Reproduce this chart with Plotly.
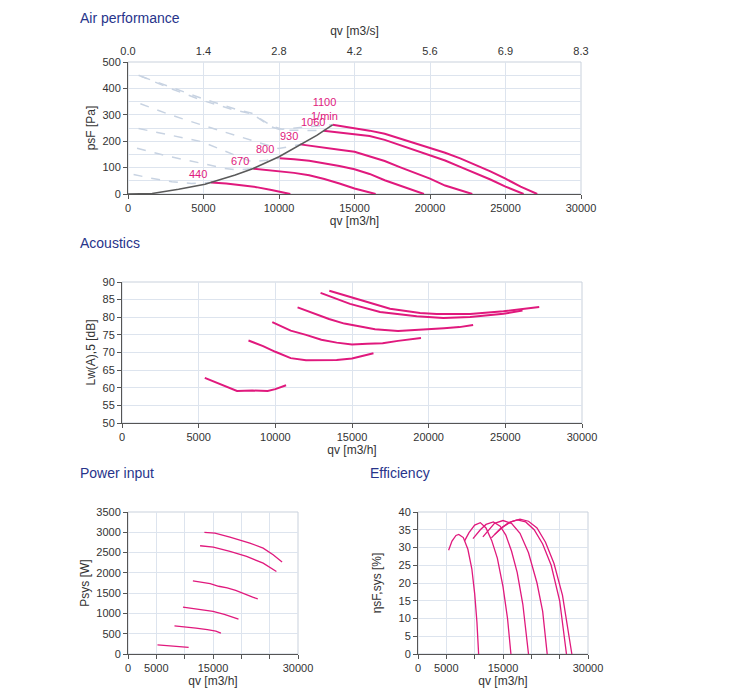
import plotly.graph_objects as go

# speeds [1/min]
speeds = ["440", "670", "800", "930", "1060", "1100"]

# air performance: qv [m3/h] / psF [Pa]
air_qv = [
    [5500, 6500, 7500, 8500, 9500, 10000, 10750],
    [8300, 9000, 10000, 11000, 12000, 13000, 14000, 15000, 16400],
    [10050, 11000, 12000, 13000, 14000, 15000, 16000, 17000, 18000, 19000, 19600],
    [11400, 12000, 13000, 14000, 15000, 16000, 17000, 18000, 19000, 20000, 21000, 22000, 22800],
    [12950, 14000, 15000, 16000, 17000, 18000, 19000, 20000, 21000, 22000, 23000, 24000, 25000, 26200],
    [13550, 14000, 15000, 16000, 17000, 18000, 19000, 20000, 21000, 22000, 23000, 24000, 25000, 26000, 27100],
]
air_ps = [
    [44, 40, 33, 26, 15, 9, 0],
    [96, 92, 87, 80, 71, 57, 40, 21, 0],
    [135, 132, 126, 117, 106, 94, 76, 52, 32, 14, 0],
    [188, 184, 176, 168, 160, 142, 125, 102, 80, 58, 32, 14, 0],
    [240, 233, 227, 220, 205, 185, 168, 148, 127, 103, 80, 55, 28, 0],
    [262, 258, 250, 240, 228, 210, 192, 176, 156, 135, 112, 86, 58, 28, 0],
]

# unstable (dashed) part
dash_qv = [
    [370, 1500, 2900, 4200, 5500],
    [600, 2500, 4900, 6400, 7300, 8300],
    [700, 2800, 4900, 7100, 8200, 9200, 10050],
    [820, 2800, 4900, 6500, 8200, 9970, 10800, 11400],
    [700, 2800, 4900, 7100, 8200, 9500, 10200, 11500, 12950],
    [900, 2800, 4900, 7100, 8200, 9500, 10200, 12000, 13550],
]
dash_ps = [
    [74, 60, 46, 40, 44],
    [173, 145, 116, 97, 91, 96],
    [248, 222, 198, 147, 122, 128, 135],
    [342, 300, 261, 233, 203, 172, 180, 188],
    [450, 400, 355, 317, 304, 254, 242, 240, 240],
    [445, 405, 362, 322, 306, 258, 245, 255, 262],
]

# system curve
sys_qv = [0, 1600, 3350, 5100, 7100, 8300, 10000, 11300, 12500, 13550]
sys_ps = [0, 2, 18, 37, 72, 97, 141, 183, 222, 262]

# speed labels
lbl_qv = [4630, 7430, 9090, 10680, 12250, 13000]
lbl_ps = [75, 125, 170, 219, 274, 322]
lbl_txt = ["440", "670", "800", "930", "1060", "1100<br>1/min"]

# acoustics: Lw(A),5 [dB]
ac_qv = [
    [5400, 6200, 7000, 7500, 8500, 9500, 10000, 10700],
    [8250, 9200, 10000, 11000, 12000, 13000, 14000, 15000, 16400],
    [9800, 11000, 12000, 13000, 14000, 15000, 16000, 17000, 18000, 19500],
    [11450, 12500, 13500, 14500, 15500, 16500, 18000, 19500, 21000, 22000, 22900],
    [12950, 14870, 16830, 19220, 20960, 22700, 24880, 26120],
    [13520, 15520, 17480, 19440, 20530, 22700, 24880, 27210],
]
ac_lw = [
    [62.8, 61.4, 59.8, 59.1, 59.2, 59.1, 59.6, 60.7],
    [73.4, 71.8, 70.2, 68.4, 67.8, 67.9, 67.9, 68.3, 69.8],
    [78.6, 76.2, 75.0, 73.6, 72.8, 72.3, 72.5, 72.6, 73.3, 74.1],
    [82.8, 81.1, 79.5, 78.2, 77.3, 76.6, 76.1, 76.4, 76.9, 77.2, 77.8],
    [86.9, 83.8, 81.5, 80.3, 79.8, 80.1, 81.0, 81.9],
    [87.5, 85.0, 82.4, 81.2, 80.9, 80.9, 81.7, 82.9],
]

# power input: Psys [W]
pw_qv = [
    [5200, 6500, 7500, 9000, 10700],
    [8200, 10000, 12000, 14000, 15500, 16400],
    [9700, 11000, 13000, 15000, 17000, 18500, 19500],
    [11450, 13000, 14500, 16000, 17500, 19000, 20500, 22000, 22900],
    [12720, 15060, 17990, 20920, 23850, 26190],
    [13480, 15350, 17990, 21500, 23850, 25610, 27190],
]
pw_w = [
    [225, 215, 200, 195, 165],
    [695, 675, 640, 600, 565, 515],
    [1155, 1130, 1095, 1050, 975, 910, 860],
    [1800, 1770, 1735, 1670, 1630, 1570, 1480, 1400, 1360],
    [2668, 2635, 2528, 2405, 2240, 2034],
    [2998, 2981, 2882, 2734, 2610, 2446, 2265],
]

# efficiency: etasF,sys [%]
ef_qv = [
    [5400, 6000, 6700, 7200, 8000, 8800, 9500, 10000, 10400, 10700],
    [8200, 9000, 10000, 11000, 12000, 13000, 14000, 15000, 15800, 16400],
    [9700, 11000, 12000, 13300, 14500, 15500, 16500, 17500, 18500, 19500],
    [11450, 12500, 13500, 15000, 16500, 18000, 19500, 21000, 22000, 22800],
    [12950, 14500, 16000, 17500, 19000, 20500, 22000, 23500, 25000, 26200],
    [13550, 15000, 16500, 18000, 19500, 21000, 22500, 24000, 25500, 27150],
]
ef_eta = [
    [29.2, 31.8, 33.4, 33.7, 32.8, 29.5, 24, 17, 9, 0],
    [31.8, 34.2, 36.3, 37.0, 35.5, 32, 27, 19, 10, 0],
    [32.5, 35, 36.5, 37.2, 36, 33.5, 29, 23, 14, 0],
    [33, 35, 36.8, 37.6, 36.8, 34, 28.5, 20, 12, 0],
    [32.7, 35.3, 37, 37.8, 37.2, 35, 31, 25, 15, 0],
    [33.7, 35.8, 37.3, 38, 37.4, 35.5, 31.5, 25.5, 16.5, 0],
]

top_ticks = ["0.0", "1.4", "2.8", "4.2", "5.6", "6.9", "8.3"]

PINK = "#e0197d"
GRID = "#dde4ee"
NAVY = "#27348b"
# page body has an 8px margin, so the figure starts at (8, 8) in the window
OFF = 8
W, H = 750 - OFF, 693 - OFF

fig = go.Figure()

# air performance
for i in range(len(speeds)):
    fig.add_trace(go.Scatter(x=dash_qv[i], y=dash_ps[i], mode="lines",
                             line=dict(color="#c8d3e2", width=1.5, dash="dash"),
                             xaxis="x", yaxis="y"))
for i in range(len(speeds)):
    fig.add_trace(go.Scatter(x=air_qv[i], y=air_ps[i], mode="lines",
                             line=dict(color=PINK, width=2), xaxis="x", yaxis="y"))
fig.add_trace(go.Scatter(x=sys_qv, y=sys_ps, mode="lines",
                         line=dict(color="#5a5a5a", width=1.6), xaxis="x", yaxis="y"))
fig.add_trace(go.Scatter(x=[None], y=[None], xaxis="x2", yaxis="y"))

# acoustics
for i in range(len(speeds)):
    fig.add_trace(go.Scatter(x=ac_qv[i], y=ac_lw[i], mode="lines",
                             line=dict(color=PINK, width=2), xaxis="x3", yaxis="y3"))
# power
for i in range(len(speeds)):
    fig.add_trace(go.Scatter(x=pw_qv[i], y=pw_w[i], mode="lines",
                             line=dict(color=PINK, width=1.3), xaxis="x4", yaxis="y4"))
# efficiency
for i in range(len(speeds)):
    fig.add_trace(go.Scatter(x=ef_qv[i], y=ef_eta[i], mode="lines",
                             line=dict(color=PINK, width=1.3), xaxis="x5", yaxis="y5"))


def ax(dom, rng, **kw):
    d = dict(domain=dom, range=rng, showgrid=True, gridcolor=GRID, gridwidth=1,
             showline=True, linecolor="#555555", linewidth=1, mirror=False,
             ticks="outside", ticklen=4, tickcolor="#555555", zeroline=False,
             automargin=False, tickformat="d",
             tickfont=dict(size=11, color="#333333"),
             title_font=dict(size=12, color="#333333"))
    d.update(kw)
    return d


def px_x(a, b):
    return [(a - OFF) / W, (b - OFF) / W]


def px_y(top, bottom):
    return [1 - (bottom - OFF) / H, 1 - (top - OFF) / H]


qv_ticks = [0, 5000, 10000, 15000, 20000, 25000, 30000]
small_ticks = ["0", "5000", "", "15000", "", "", "30000"]

fig.update_layout(
    width=W, height=H, margin=dict(l=0, r=0, t=0, b=0),
    paper_bgcolor="white", plot_bgcolor="white", showlegend=False,
    font=dict(family="Liberation Sans, Arial", size=11, color="#333333"),
    xaxis=ax(px_x(128, 581), [0, 30000], anchor="y", tickvals=qv_ticks,
             title=dict(text="qv [m3/h]", standoff=2)),
    yaxis=ax(px_y(62, 194), [0, 500], anchor="x", dtick=100,
             minor=dict(dtick=50, showgrid=True, gridcolor=GRID),
             title=dict(text="psF [Pa]", standoff=4)),
    xaxis2=ax(px_x(128, 581), [0, 30000], anchor="y", overlaying="x", side="top",
              tickvals=qv_ticks, ticktext=top_ticks, showgrid=False, ticks="",
              showline=False, ticklabelstandoff=4,
              title=dict(text="qv [m3/s]", standoff=6)),
    xaxis3=ax(px_x(122, 582), [0, 30000], anchor="y3", tickvals=qv_ticks,
              title=dict(text="qv [m3/h]", standoff=2)),
    yaxis3=ax(px_y(282, 423), [50, 90], anchor="x3", dtick=5,
              title=dict(text="Lw(A),5 [dB]", standoff=4)),
    xaxis4=ax(px_x(128, 298), [0, 30000], anchor="y4", tickvals=qv_ticks,
              ticktext=small_ticks, title=dict(text="qv [m3/h]", standoff=2)),
    yaxis4=ax(px_y(512, 654), [0, 3500], anchor="x4", dtick=500,
              title=dict(text="Psys [W]", standoff=4)),
    xaxis5=ax(px_x(418, 588), [0, 30000], anchor="y5", tickvals=qv_ticks,
              ticktext=small_ticks, title=dict(text="qv [m3/h]", standoff=2)),
    yaxis5=ax(px_y(512, 654), [0, 40], anchor="x5", dtick=5,
              title=dict(text="ηsF,sys [%]", standoff=14)),
)

# frame around plot areas (light border on top/right)
for xa, ya in [("x", "y"), ("x3", "y3"), ("x4", "y4"), ("x5", "y5")]:
    fig.add_shape(type="rect", xref=xa + " domain", yref=ya + " domain",
                  x0=0, x1=1, y0=0, y1=1, line=dict(color="#c9d1dc", width=1),
                  layer="below")

# speed labels
for i in range(len(lbl_txt)):
    fig.add_annotation(x=lbl_qv[i], y=lbl_ps[i], xref="x", yref="y", text=lbl_txt[i],
                       showarrow=False, font=dict(size=11, color=PINK))

# section titles (first one pinned to the top edge of the figure)
for txt, xp, yp in [("Air performance", 78, 15), ("Acoustics", 78, 241),
                    ("Power input", 78, 471), ("Efficiency", 368, 471)]:
    fig.add_annotation(x=(xp - OFF) / W, y=min(1, 1 - (yp - 8 - OFF) / H), xref="paper",
                       yref="paper", text=txt, showarrow=False, xanchor="left",
                       yanchor="top", font=dict(size=14, color=NAVY))

fig.write_html("out.html")
